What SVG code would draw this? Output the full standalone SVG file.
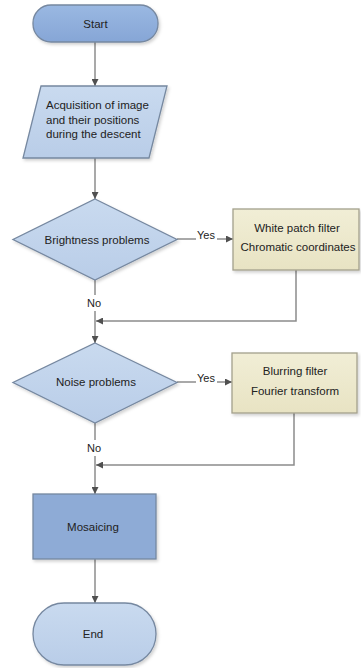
<svg xmlns="http://www.w3.org/2000/svg" width="361" height="668" viewBox="0 0 361 668">
<defs>
<marker id="ah" viewBox="0 0 10 10" refX="10" refY="5" markerWidth="7" markerHeight="7" markerUnits="userSpaceOnUse" orient="auto">
<path d="M0,0 L10,5 L0,10 z" fill="#505050"/>
</marker>
<filter id="sh" x="-10%" y="-10%" width="125%" height="130%">
<feDropShadow dx="1.5" dy="2" stdDeviation="1.5" flood-color="#000" flood-opacity="0.18"/>
</filter>
<linearGradient id="gStart" x1="0" y1="0" x2="0" y2="1">
<stop offset="0" stop-color="#9ab8e2"/><stop offset="1" stop-color="#86a6d6"/>
</linearGradient>
<linearGradient id="gLight" x1="0" y1="0" x2="0" y2="1">
<stop offset="0" stop-color="#c9daef"/><stop offset="1" stop-color="#b9cde8"/>
</linearGradient>
<linearGradient id="gBox" x1="0" y1="0" x2="0" y2="1">
<stop offset="0" stop-color="#f1eed6"/><stop offset="1" stop-color="#e8e3c3"/>
</linearGradient>
</defs>
<style>
text{font-family:"Liberation Sans",Arial,sans-serif;font-size:11.5px;fill:#222;}
.c{text-anchor:middle;}
.ln{fill:none;stroke:#8c8c8c;stroke-width:1.5;}
.lnA{fill:none;stroke:#8c8c8c;stroke-width:1.5;marker-end:url(#ah);}
.blue{stroke:#7688a0;stroke-width:1.3;filter:url(#sh);}
.beige{fill:url(#gBox);stroke:#a3a08c;stroke-width:1.3;filter:url(#sh);}
.lbl{font-size:11px;}
</style>
<g id="connectors">
<path class="lnA" d="M95,42 V86"/>
<path class="lnA" d="M95,158 V199"/>
<path class="ln" d="M177,239 H196"/>
<path class="lnA" d="M217,239 H233"/>
<path class="ln" d="M95,280 V295"/>
<path class="lnA" d="M95,311 V343"/>
<path class="lnA" d="M296,270 V321 H96"/>
<path class="ln" d="M177,382 H196"/>
<path class="lnA" d="M217,382 H232"/>
<path class="ln" d="M95,423 V440"/>
<path class="lnA" d="M95,456 V494"/>
<path class="lnA" d="M294,413 V465 H96"/>
<path class="lnA" d="M95,559 V603"/>
<text class="c lbl" x="206" y="239">Yes</text>
<text class="c lbl" x="94" y="307">No</text>
<text class="c lbl" x="206" y="382">Yes</text>
<text class="c lbl" x="94" y="452">No</text>
</g>
<g id="start">
<rect x="33" y="5" width="125" height="37" rx="18" fill="url(#gStart)" class="blue"/>
<text class="c" x="95.5" y="28">Start</text>
</g>
<g id="acquisition">
<polygon points="41,86 167,86 149,158 23,158" fill="url(#gLight)" class="blue"/>
<text x="46" y="109">Acquisition of image</text>
<text x="46" y="124">and their positions</text>
<text x="46" y="138">during the descent</text>
</g>
<g id="brightness">
<polygon points="95,199 177,239.5 95,280 13,239.5" fill="url(#gLight)" class="blue"/>
<text class="c" x="97" y="244">Brightness problems</text>
</g>
<g id="brightness-fix">
<rect x="233" y="209" width="126" height="61" class="beige"/>
<text class="c" x="297" y="232">White patch filter</text>
<text class="c" x="298" y="251">Chromatic coordinates</text>
</g>
<g id="noise">
<polygon points="95,343 177,382.5 95,423 13,382.5" fill="url(#gLight)" class="blue"/>
<text class="c" x="96" y="386">Noise problems</text>
</g>
<g id="noise-fix">
<rect x="232" y="353" width="125" height="60" class="beige"/>
<text class="c" x="295" y="375">Blurring filter</text>
<text class="c" x="295" y="395">Fourier transform</text>
</g>
<g id="mosaicing">
<rect x="33" y="494" width="123" height="65" fill="#8eabd6" class="blue"/>
<text class="c" x="93" y="531">Mosaicing</text>
</g>
<g id="end">
<rect x="33" y="603" width="123" height="62" rx="31" fill="url(#gLight)" class="blue"/>
<text class="c" x="93" y="638">End</text>
</g>
</svg>
